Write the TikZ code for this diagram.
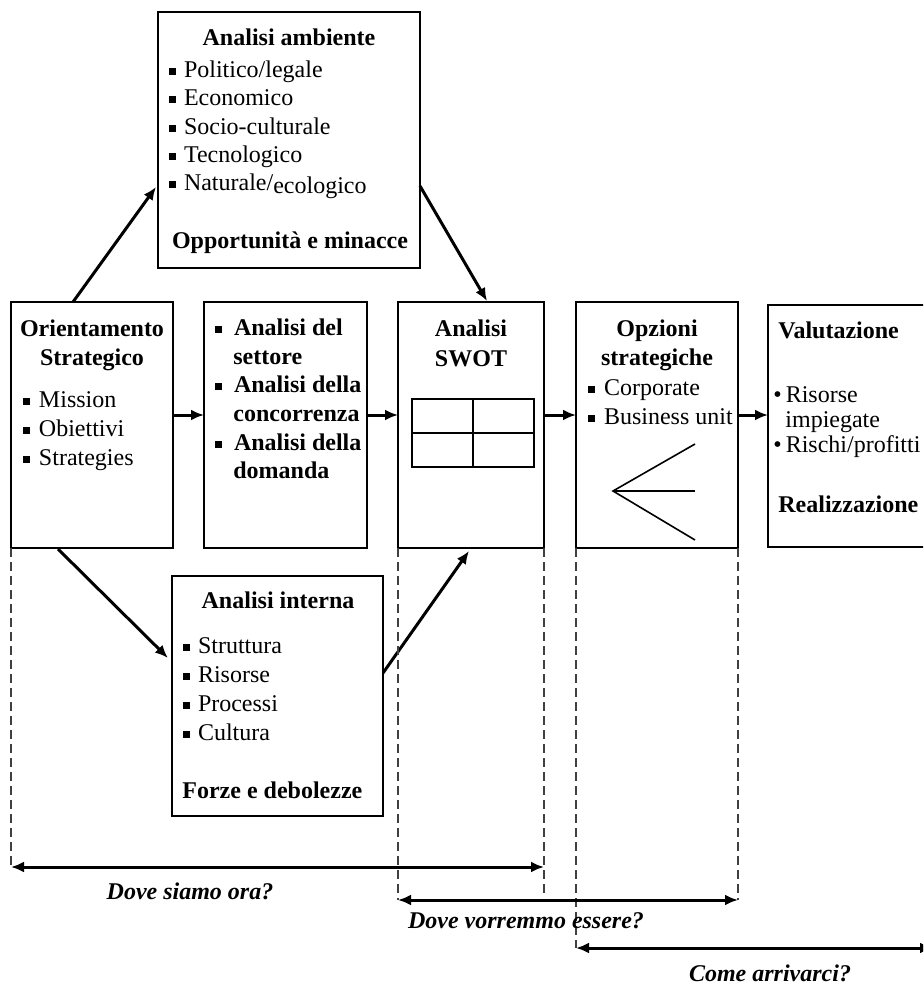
\documentclass[tikz,border=0pt]{standalone}
\usepackage{fontspec}
\setmainfont{Liberation Serif}
\usetikzlibrary{arrows.meta,calc}
\newcommand\sqb{\raisebox{1.2pt}{\rule{3.3pt}{3.3pt}}}
\newcommand\fsz{\fontsize{12pt}{14.4pt}\selectfont}
\begin{document}
\begin{tikzpicture}[x=0.5pt,y=-0.5pt,
  box/.style={draw, line width=0.7pt, inner sep=0pt, outer sep=0pt, anchor=north west},
  txt/.style={inner sep=0pt, anchor=base west, font=\fsz},
  ttl/.style={inner sep=0pt, anchor=base, font=\fsz\bfseries},
  lab/.style={inner sep=0pt, anchor=base, font=\fsz\bfseries\itshape},
  arr/.style={line width=1.5pt, -{Latex[length=6.5pt,width=5.5pt]}},
  dim/.style={line width=1.5pt, {Latex[length=6.5pt,width=5.5pt]}-{Latex[length=6.5pt,width=5.5pt]}},
  guide/.style={line width=0.55pt, dash pattern=on 4.5pt off 2.5pt, black!75},
  gridl/.style={line width=1.2pt},
  fanl/.style={line width=0.8pt}]
\useasboundingbox (0,0) rectangle (923,985);
\fill[white] (0,0) rectangle (923,985);
\clip (0,0) rectangle (923,985);

% boxes
\node[box, minimum width=131pt, minimum height=128pt] (amb) at (158,12) {};
\node[box, minimum width=81pt, minimum height=123pt] (ori) at (11,302) {};
\node[box, minimum width=81.5pt, minimum height=123pt] (set) at (204,302) {};
\node[box, minimum width=73pt, minimum height=123pt] (swot) at (398,302) {};
\node[box, minimum width=81pt, minimum height=123pt] (opz) at (576,302) {};
\node[box, minimum width=96pt, minimum height=121pt] (val) at (768,305) {};
\node[box, minimum width=105.5pt, minimum height=120pt] (int) at (172,576) {};

% Analisi ambiente
\node[ttl] (ambt) at (289,45) {Analisi ambiente};
\node[txt] (amb1) at (169,77) {\sqb\hspace{4pt}Politico/legale};
\node[txt] (amb2) at (169,105) {\sqb\hspace{4pt}Economico};
\node[txt] (amb3) at (169,134) {\sqb\hspace{4pt}Socio-culturale};
\node[txt] (amb4) at (169,162) {\sqb\hspace{4pt}Tecnologico};
\node[txt] (amb5) at (169,190) {\sqb\hspace{4pt}Naturale/\raisebox{-1.5pt}{ecologico}};
\node[ttl] (ambb) at (290,248) {Opportunità e minacce};

% Orientamento strategico
\node[ttl] (orit1) at (92,336) {Orientamento};
\node[ttl] (orit2) at (92,365) {Strategico};
\node[txt] (ori1) at (23,407) {\sqb\hspace{4.5pt}Mission};
\node[txt] (ori2) at (23,436) {\sqb\hspace{4.5pt}Obiettivi};
\node[txt] (ori3) at (23,465) {\sqb\hspace{4.5pt}Strategies};

% Settore
\node[txt, font=\fsz\bfseries] (set1) at (215,335) {\sqb\hspace{6pt}Analisi del};
\node[txt, font=\fsz\bfseries] (set2) at (233,364) {settore};
\node[txt, font=\fsz\bfseries] (set3) at (215,392) {\sqb\hspace{6pt}Analisi della};
\node[txt, font=\fsz\bfseries] (set4) at (233,421) {concorrenza};
\node[txt, font=\fsz\bfseries] (set5) at (215,450) {\sqb\hspace{6pt}Analisi della};
\node[txt, font=\fsz\bfseries] (set6) at (233,478) {domanda};

% SWOT
\node[ttl] (swt1) at (471,336) {Analisi};
\node[ttl] (swt2) at (471,366) {SWOT};
\draw[gridl] (412,399) rectangle (534,467);
\draw[gridl] (473,399) -- (473,467);
\draw[gridl] (412,433) -- (534,433);

% Opzioni
\node[ttl] (opzt1) at (657,336) {Opzioni};
\node[ttl] (opzt2) at (657,365) {strategiche};
\node[txt] (opz1) at (588,395) {\sqb\hspace{4.5pt}Corporate};
\node[txt] (opz2) at (588,424) {\sqb\hspace{4.5pt}Business unit};
\draw[fanl] (695,444) -- (613,491) -- (695,540);
\draw[fanl] (613,491) -- (695,491);

% Valutazione
\node[txt, font=\fsz\bfseries] (valt) at (778,338) {Valutazione};
\node[txt] (val1) at (773,402) {•\hspace{2pt}Risorse};
\node[txt] (val2) at (785,427) {impiegate};
\node[txt] (val3) at (773,452) {•\hspace{2pt}Rischi/profitti};
\node[txt, font=\fsz\bfseries] (valb) at (778,512) {Realizzazione};

% Analisi interna
\node[ttl] (intt) at (278,608) {Analisi interna};
\node[txt] (int1) at (183,653) {\sqb\hspace{4pt}Struttura};
\node[txt] (int2) at (183,682) {\sqb\hspace{4pt}Risorse};
\node[txt] (int3) at (183,711) {\sqb\hspace{4pt}Processi};
\node[txt] (int4) at (183,740) {\sqb\hspace{4pt}Cultura};
\node[txt, font=\fsz\bfseries] (intb) at (182,798) {Forze e debolezze};

% connectors
\draw[arr] ($(ori.north west)+(62,0)$) -- ($(amb.north west)+(-2,175)$);
\draw[arr] ($(amb.north east)+(0,174)$) -- ($(swot.north west)+(89,-1)$);
\draw[arr] ($(ori.north east)+(0,113)$) -- ($(set.north west)+(0,113)$);
\draw[arr] ($(set.north east)+(0,113)$) -- ($(swot.north west)+(0,113)$);
\draw[arr] ($(swot.north east)+(0,113)$) -- ($(opz.north west)+(0,113)$);
\draw[arr] ($(opz.north east)+(0,113)$) -- ($(val.north west)+(0,110)$);
\draw[arr] ($(ori.south west)+(47,1)$) -- ($(int.north west)+(-4,82)$);
\draw[arr] ($(int.north east)+(0,97)$) -- ($(swot.south west)+(71,3)$);

% guides and spans
\coordinate (l1) at (11,867);
\coordinate (r1) at (544,867);
\coordinate (g2) at (544,898);
\coordinate (l2) at (398,900);
\coordinate (r2) at (738,900);
\coordinate (l3) at (576,948);
\coordinate (r3) at (933,948);
\draw[guide] (ori.south west) -- (l1);
\draw[guide] (swot.south east) -- (g2);
\draw[guide] (swot.south west) -- (l2);
\draw[guide] (opz.south east) -- (r2);
\draw[guide] (opz.south west) -- (l3);
\draw[dim] (l1) -- (r1);
\draw[dim] (l2) -- (r2);
\draw[dim] (l3) -- (r3);
\node[lab] (q1) at (190,899) {Dove siamo ora?};
\node[lab] (q2) at (526,928) {Dove vorremmo essere?};
\node[lab] (q3) at (770,981) {Come arrivarci?};
\end{tikzpicture}
\end{document}
